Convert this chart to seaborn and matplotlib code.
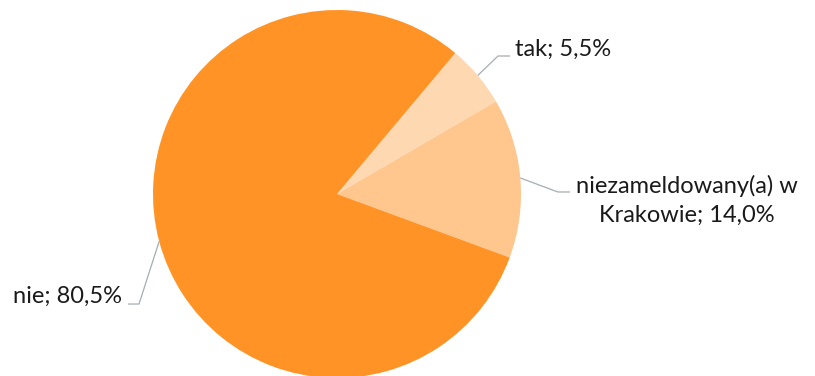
import numpy as np
import seaborn as sns
import matplotlib.pyplot as plt

# dane
kategorie = ["tak", "niezameldowany(a) w\nKrakowie", "nie"]
udzialy = [5.5, 14.0, 80.5]
kolory = ["#FED8B0", "#FFC68E", "#FF9326"]

sns.set_theme(style="white")
plt.rcParams["font.family"] = ["Lato", "DejaVu Sans"]

fig = plt.figure(figsize=(8.15, 3.76), dpi=100)
ax = fig.add_axes([0, 0, 1, 1])

start = 50
ax.pie(udzialy, colors=kolory, startangle=start, counterclock=False,
       wedgeprops=dict(linewidth=0))

# pozycje etykiet: (kolanko linii, koniec linii, tekst, wyrownanie)
etykiety = [
    ((0.875, 0.75), (0.94, 0.75), (0.965, 0.785), "left"),
    ((1.20, 0.011), (1.266, 0.011), (1.90, -0.035), "center"),
    ((-1.076, -0.598), (-1.136, -0.598), (-1.168, -0.555), "right"),
]

kat = start
for nazwa, wart, (lokiec, koniec, tpos, ha) in zip(kategorie, udzialy, etykiety):
    srodek = np.deg2rad(kat - wart * 3.6 / 2)
    kat -= wart * 3.6
    x0, y0 = np.cos(srodek), np.sin(srodek)
    ax.plot([x0, lokiec[0], koniec[0]], [y0, lokiec[1], koniec[1]],
            color="#A6ADB4", lw=0.9, solid_capstyle="butt")
    tekst = f"{nazwa}; {wart:.1f}%".replace(".", ",")
    ax.text(tpos[0], tpos[1], tekst, ha=ha, va="center", fontsize=17,
            color="#1a1a1a", multialignment="center", linespacing=1.5)

ax.set_xlim(-337 / 184, (815 - 337) / 184)
ax.set_ylim(-182 / 184, 194 / 184)
ax.set_aspect("auto")
ax.axis("off")

fig.savefig("out.png", dpi=100)
